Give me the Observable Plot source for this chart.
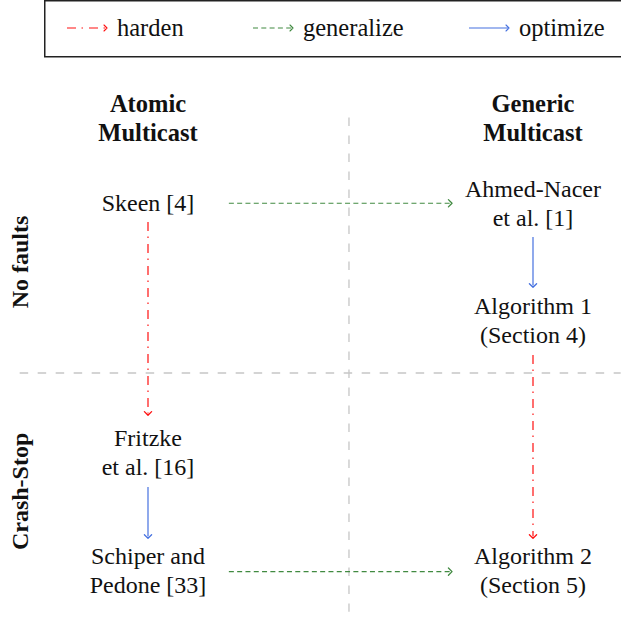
<!DOCTYPE html>
<html><head><meta charset="utf-8">
<script src="https://cdn.jsdelivr.net/npm/d3@7"></script>
<script src="https://cdn.jsdelivr.net/npm/@observablehq/plot@0.6"></script>
<style>
html,body{margin:0;padding:0;background:#fff;overflow:hidden;width:621px;height:617px;}
#legend{display:block;height:58px;overflow:hidden;}
#legend svg{display:block;}
#chart svg{display:block;}
#chart svg marker path{stroke-dasharray:none !important;}
</style></head><body>
<div id="legend"></div><div id="chart"></div>
<script>
// ---- data ----
const relations = ["harden", "generalize", "optimize"];
const relationColors = ["#ff1010", "#418a41", "#4571e0"];
const relationDashes = ["9 5.5 1.5 6", "5 3.3", "none"];

const columnHeaders = ["Atomic\nMulticast", "Generic\nMulticast"];
const columnIndex = [0, 1];
const headerLevel = [0, 0];

const rowLabels = ["No faults", "Crash-Stop"];
const rowLabelLevel = [1.27, 3.3];
const rowLabelColumn = [-0.332, -0.332];

const nodeLabels = ["Skeen [4]", "Ahmed-Nacer\net al. [1]", "Algorithm 1\n(Section 4)", "Fritzke\net al. [16]", "Schiper and\nPedone [33]", "Algorithm 2\n(Section 5)"];
const nodeColumn = [0, 1, 1, 0, 0, 1];
const nodeLevel = [0.75, 0.75, 1.79, 2.96, 4, 4];

// arrows: relation, start column/level, end column/level
const arrowType = ["generalize", "optimize", "harden", "harden", "optimize", "generalize"];
const arrowX1 = [0.21, 1, 0, 1, 0, 0.21];
const arrowY1 = [0.75, 1.049, 0.916, 2.093, 3.261, 4.01];
const arrowX2 = [0.785, 1, 0, 1, 0, 0.785];
const arrowY2 = [0.75, 1.478, 2.61, 3.70, 3.70, 4.01];

// quadrant dividers
const dividerColumn = [0.522];
const dividerColumnSpan = [-0.005, 4.37];
const dividerLevel = [2.252];
const dividerLevelSpan = [-0.332, 1.229];

// ---- build tables ----
const headers = columnHeaders.map((t, i) => ({t, x: columnIndex[i], y: headerLevel[i]}));
const rows = rowLabels.map((t, i) => ({t, x: rowLabelColumn[i], y: rowLabelLevel[i]}));
const nodes = nodeLabels.map((t, i) => ({t, x: nodeColumn[i], y: nodeLevel[i]}));
const arrows = arrowType.map((type, i) => ({type, x1: arrowX1[i], y1: arrowY1[i], x2: arrowX2[i], y2: arrowY2[i]}));

const FONT = "'Liberation Serif', 'DejaVu Serif', serif";
const INK = "#111";
const GREY = "#c6c6c6";

// ---- legend ----
const L = d3.create("svg").attr("width", 621).attr("height", 58).style("font-family", FONT);
L.append("rect").attr("x", 44.75).attr("y", 0.75).attr("width", 620).attr("height", 56)
  .attr("fill", "none").attr("stroke", "#222").attr("stroke-width", 1.5);
const legendStart = [67, 253, 469];
relations.forEach((r, i) => {
  const x0 = legendStart[i], x1 = x0 + 40, y = 28;
  const g = L.append("g").attr("stroke", relationColors[i]).attr("fill", "none");
  g.append("line").attr("x1", x0).attr("x2", x1 - 0.5).attr("y1", y).attr("y2", y)
    .attr("stroke-width", 1.2).attr("stroke-dasharray", relationDashes[i] === "none" ? null : relationDashes[i]);
  g.append("path").attr("d", `M${x1 - 3},${y - 3}l3,3l-3,3`).attr("stroke-width", 1.1)
    .attr("stroke-linecap", "round").attr("stroke-linejoin", "round");
  L.append("text").attr("x", x1 + 10).attr("y", 35.5).attr("font-size", 24.5).attr("fill", INK).text(r);
});
document.getElementById("legend").append(L.node());

// ---- chart ----
const arrowMarks = relations.map((r, i) => Plot.link(arrows.filter(d => d.type === r), {
  x1: "x1", y1: "y1", x2: "x2", y2: "y2",
  stroke: relationColors[i],
  strokeWidth: 1.2,
  strokeDasharray: relationDashes[i] === "none" ? undefined : relationDashes[i],
  markerEnd: "arrow"
}));

const chart = Plot.plot({
  width: 621,
  height: 559,
  x: {domain: [0, 1], range: [147.5, 532.5], axis: null},
  y: {domain: [0, 4], range: [60, 512], axis: null},
  style: {fontFamily: FONT, color: INK, background: "#fff"},
  marks: [
    Plot.ruleX(dividerColumn, {x: d => d, y1: () => dividerColumnSpan[0], y2: () => dividerColumnSpan[1],
      stroke: GREY, strokeWidth: 1.3, strokeDasharray: "8.5 9.5"}),
    Plot.ruleY(dividerLevel, {y: d => d, x1: () => dividerLevelSpan[0], x2: () => dividerLevelSpan[1],
      stroke: GREY, strokeWidth: 1.3, strokeDasharray: "8.5 9.5"}),
    ...arrowMarks,
    Plot.text(headers, {x: "x", y: "y", text: "t", fontSize: 24.5, fontWeight: "bold", lineHeight: 1.19, dy: -1.5, fill: INK}),
    Plot.text(rows, {x: "x", y: "y", text: "t", fontSize: 24, fontWeight: "bold", rotate: -90, fill: INK}),
    Plot.text(nodes, {x: "x", y: "y", text: "t", fontSize: 24, lineHeight: 1.21, dy: -1.5, fill: INK})
  ]
});
chart.querySelectorAll("marker").forEach(m => {
  m.setAttribute("markerWidth", 10);
  m.setAttribute("markerHeight", 10);
  m.setAttribute("stroke-width", 1.1);
});
document.getElementById("chart").append(chart);
</script>
</body></html>
